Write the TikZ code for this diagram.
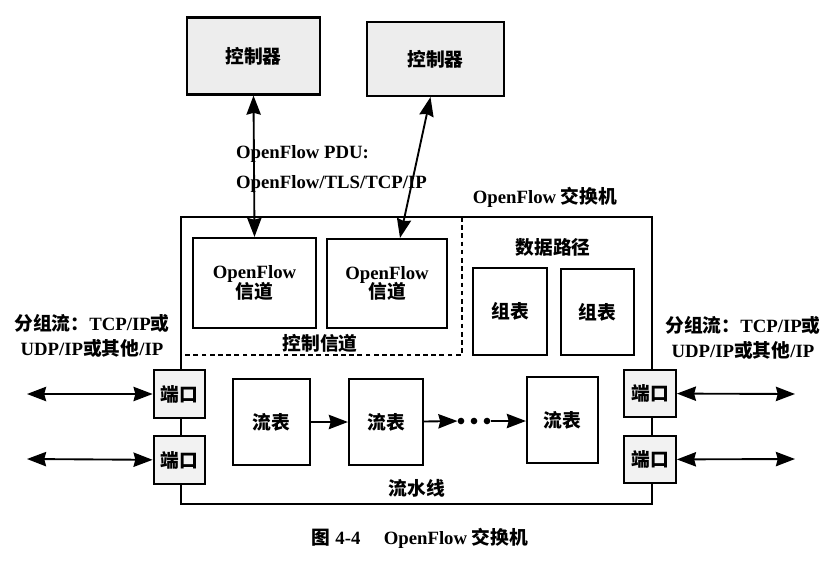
\documentclass[tikz,border=0pt]{standalone}
\usepackage{fontspec}
\setmainfont{Liberation Serif}
\newfontfamily\cjk{Noto Sans CJK SC}
\usetikzlibrary{arrows.meta,calc}
\newcommand{\zh}[1]{{\cjk\bfseries #1}}

\begin{document}
\begin{tikzpicture}[x=0.03cm,y=-0.03cm,
  every node/.style={font=\bfseries\fontsize{16}{19}\selectfont},
  box/.style={draw,line width=1.8pt,fill=white,inner sep=0pt,align=center},
  ctrlbox/.style={box,fill=gray!14},
  portbox/.style={box,fill=gray!10,minimum width=1.55cm,minimum height=1.42cm},
  flowbox/.style={box,minimum height=2.58cm},
  link/.style={line width=1.6pt,arrows={-Stealth[scale=1.6,inset=1pt]}},
  dlink/.style={line width=1.6pt,arrows={Stealth[scale=1.6,inset=1pt]-Stealth[scale=1.6,inset=1pt]}}]
  \useasboundingbox (0,0) rectangle (832,561);
  \draw[line width=1.8pt] (181,217) rectangle (652,504);
  \draw[line width=1.6pt,dash pattern=on 4pt off 3pt] (462,217) -- (462,355) -- (181,355);
  \node[ctrlbox,minimum width=3.99cm,minimum height=2.31cm] (ctrl1) at (253.5,56) {\zh{控制器}};
  \node[ctrlbox,minimum width=4.11cm,minimum height=2.22cm] (ctrl2) at (435.5,59) {\zh{控制器}};
  \node[box,minimum width=3.69cm,minimum height=2.7cm] (chan1) at (254.5,283) {OpenFlow\\[-2pt]\zh{信道}};
  \node[box,minimum width=3.6cm,minimum height=2.67cm] (chan2) at (387,283.5) {OpenFlow\\[-2pt]\zh{信道}};
  \node[box,minimum width=2.22cm,minimum height=2.61cm] (group1) at (510,311.5) {\zh{组表}};
  \node[box,minimum width=2.19cm,minimum height=2.58cm] (group2) at (597.5,312) {\zh{组表}};
  \node[flowbox,minimum width=2.31cm] (flow1) at (271.5,422) {\zh{流表}};
  \node[flowbox,minimum width=2.22cm] (flow2) at (386,422) {\zh{流表}};
  \node[flowbox,minimum width=2.13cm] (flow3) at (562.5,420) {\zh{流表}};
  \node[portbox] (portL1) at (179.5,394) {\zh{端口}};
  \node[portbox] (portL2) at (179.5,460) {\zh{端口}};
  \node[portbox] (portR1) at (650,393.5) {\zh{端口}};
  \node[portbox] (portR2) at (650,459.5) {\zh{端口}};
  \node[circle,fill,inner sep=2pt] (dot1) at (461,421) {};
  \node[circle,fill,inner sep=2pt] (dot2) at (474,421) {};
  \node[circle,fill,inner sep=2pt] (dot3) at (487,421) {};
  \coordinate (inL1) at (27,394);
  \coordinate (inL2) at (27,459);
  \coordinate (inR1) at (795,394);
  \coordinate (inR2) at (795,459);
  \draw[dlink] (ctrl1.south) -- (chan1.north);
  \draw[dlink] ($(ctrl2.south)+(-5,0)$) -- ($(chan2.north)+(13,0)$);
  \draw[link] (flow1) -- (flow2);
  \draw[link] (flow2) -- (dot1);
  \draw[link] (dot3) -- (flow3.west |- dot3);
  \draw[dlink] (inL1) -- (portL1);
  \draw[dlink] (inL2) -- (portL2);
  \draw[dlink] (inR1) -- (portR1);
  \draw[dlink] (inR2) -- (portR2);
  \node[anchor=west,align=left,font=\bfseries\fontsize{16}{26}\selectfont] (pdu) at (232,169) {OpenFlow PDU:\\OpenFlow/TLS/TCP/IP};
  \node (swlabel) at (545,197) {OpenFlow \zh{交换机}};
  \node (ctrlchan) at (320,343) {\zh{控制信道}};
  \node (datapath) at (553,247) {\zh{数据路径}};
  \node (pipeline) at (417,488) {\zh{流水线}};
  \node[align=center,font=\bfseries\fontsize{16}{22}\selectfont] (pktL) at (92,336) {\zh{分组流：}TCP/IP\zh{或}\\UDP/IP\zh{或其他}/IP};
  \node[align=center,font=\bfseries\fontsize{16}{22}\selectfont] (pktR) at (743,338) {\zh{分组流：}TCP/IP\zh{或}\\UDP/IP\zh{或其他}/IP};
  \node (caption) at (420,538) {\zh{图} 4-4\quad\ OpenFlow \zh{交换机}};
\end{tikzpicture}
\end{document}
